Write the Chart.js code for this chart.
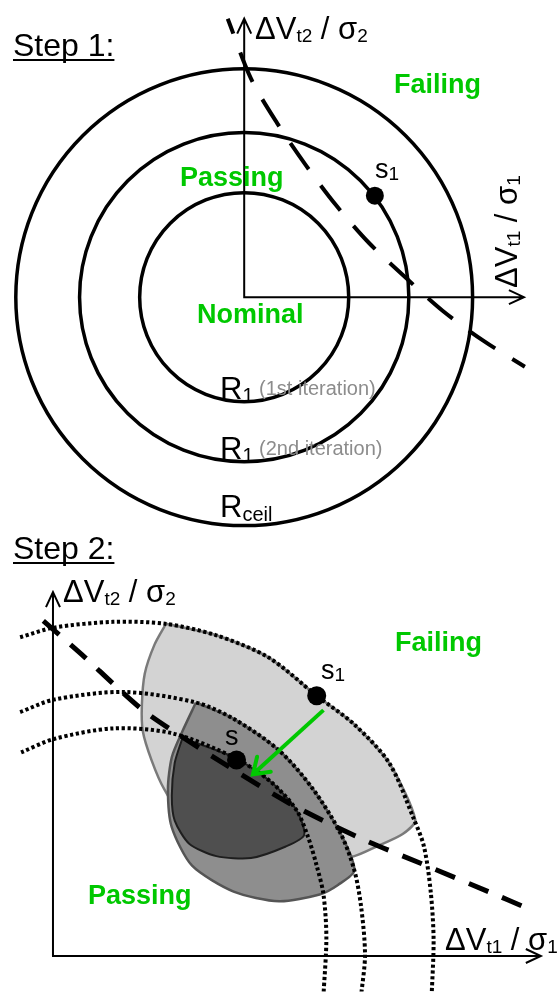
<!DOCTYPE html>
<html>
<head>
<meta charset="utf-8">
<script src="https://cdn.jsdelivr.net/npm/chart.js@4.4.1/dist/chart.umd.min.js"></script>
<style>
  html, body { margin:0; padding:0; background:#fff; }
  body { width:560px; height:1001px; position:relative; overflow:hidden; }
  canvas { position:absolute; left:0; }
  #step1 { top:0; }
  #step2 { top:525px; }
</style>
</head>
<body>
<canvas id="step1" width="560" height="545"></canvas>
<canvas id="step2" width="560" height="476"></canvas>
<script>
// ---- Step 1 data (sigma units, origin = nominal) ----
const ringLabels = ["R1 (1st iteration)", "R1 (2nd iteration)", "Rceil"];
const ringRadius = [2.0, 3.15, 4.37];
const bound1X = [-0.315, 0.13, 0.63, 1.185, 1.759, 2.389, 3.093, 3.796, 4.574, 5.37];
const bound1Y = [5.333, 4.185, 3.333, 2.519, 1.759, 1.037, 0.37, -0.259, -0.833, -1.333];
const s1StepOne = [2.5, 1.944];

// ---- Step 2 data ----
const outerArcX = [-0.85, 0.025, 1.55, 2.9, 4.225, 5.575, 6.825, 7.8, 8.7, 9.325, 9.6, 9.775, 9.85, 9.8];
const outerArcY = [7.545, 7.773, 7.909, 7.864, 7.591, 7.068, 6.159, 5.477, 4.568, 3.273, 2.591, 1.523, 0.386, -0.932];
const middleArcX = [-0.85, 0.025, 1.825, 3.7, 4.675, 5.85, 6.725, 7.45, 7.8, 7.975, 8.075, 7.975];
const middleArcY = [5.773, 6.068, 6.25, 6.0, 5.614, 4.864, 3.955, 2.886, 2.023, 1.159, 0.023, -0.932];
const innerArcX = [-0.825, 0.025, 1.55, 3.075, 4.675, 5.65, 6.3, 6.6, 6.825, 7.0, 7.075, 7.0];
const innerArcY = [4.818, 5.136, 5.386, 5.273, 4.705, 4.114, 3.455, 2.818, 2.136, 1.455, 0.432, -0.932];

const lightX = [2.925, 4.225, 5.575, 6.825, 7.8, 8.7, 9.375, 9.05, 8.375, 7.8, 6.375, 3.875, 2.875, 2.55, 2.325, 2.3, 2.375, 2.625, 2.925];
const lightY = [7.864, 7.591, 7.068, 6.159, 5.477, 4.568, 3.227, 2.886, 2.591, 2.364, 2.136, 2.591, 3.955, 4.636, 5.318, 5.932, 6.682, 7.364, 7.864];
const midX = [3.7, 4.675, 5.85, 6.725, 7.45, 7.8, 7.375, 6.9, 5.85, 4.675, 3.6, 3.075, 2.975, 3.075, 3.35, 3.7];
const midY = [6.0, 5.614, 4.864, 3.955, 2.886, 2.023, 1.682, 1.455, 1.295, 1.523, 2.136, 3.045, 3.955, 4.705, 5.318, 6.0];
const darkX = [3.35, 4.675, 5.65, 6.3, 6.5, 6.025, 5.125, 4.225, 3.525, 3.15, 3.075, 3.15, 3.35];
const darkY = [5.159, 4.705, 4.114, 3.455, 2.864, 2.591, 2.318, 2.364, 2.659, 3.205, 3.795, 4.568, 5.159];

const bound2X = [-0.25, 0.825, 1.55, 2.3, 3.0, 4.55, 6.125, 7.875, 9.55, 11.325, 12.2];
const bound2Y = [7.93, 7.07, 6.45, 5.84, 5.39, 4.48, 3.61, 2.82, 2.18, 1.5, 1.16];
const s1StepTwo = [6.825, 6.159];
const sStepTwo = [4.75, 4.64];
const moveX = [7.0, 5.175];
const moveY = [5.82, 4.3];

const GREEN = "#00c800";
const FONT = "'Liberation Sans', Arial, Helvetica, sans-serif";

function pts(xs, ys){ return xs.map((x, i) => ({ x: x, y: ys[i] })); }

// text med index
function rich(ctx, x, y, parts){
  parts.forEach(p => {
    ctx.font = (p.bold ? "bold " : "") + p.size + "px " + FONT;
    ctx.fillStyle = p.color || "#000";
    ctx.fillText(p.t, x, y + (p.dy || 0));
    x += ctx.measureText(p.t).width;
  });
  return x;
}
function axisLabel(sub){
  return [
    { t: "ΔV", size: 31 }, { t: "t" + sub, size: 19, dy: 3 },
    { t: " / σ", size: 31 }, { t: sub, size: 19, dy: 3 }
  ];
}
function green(ctx, t, x, y){
  ctx.font = "bold 27px " + FONT;
  ctx.fillStyle = GREEN;
  ctx.fillText(t, x, y);
}
function stepTitle(ctx, t, x, y){
  ctx.font = "32px " + FONT;
  ctx.fillStyle = "#000";
  ctx.fillText(t, x, y);
  const w = ctx.measureText(t).width;
  ctx.fillRect(x, y + 3, w, 2);
}
// axlar med öppna pilar
function drawAxes(chart, xEnd, yEnd){
  const { ctx, scales: { x, y } } = chart;
  const ox = x.getPixelForValue(0), oy = y.getPixelForValue(0);
  const tx = x.getPixelForValue(xEnd), ty = y.getPixelForValue(yEnd);
  ctx.save();
  ctx.strokeStyle = "#000";
  ctx.lineWidth = 2;
  ctx.beginPath();
  ctx.moveTo(ox, ty); ctx.lineTo(ox, oy); ctx.lineTo(tx, oy);
  ctx.moveTo(ox - 7, ty + 15); ctx.lineTo(ox, ty); ctx.lineTo(ox + 7, ty + 15);
  ctx.moveTo(tx - 15, oy - 7); ctx.lineTo(tx, oy); ctx.lineTo(tx - 15, oy + 7);
  ctx.stroke();
  ctx.restore();
}

const baseOptions = (xmin, xmax, ymin, ymax) => ({
  responsive: false,
  animation: false,
  devicePixelRatio: 1,
  events: [],
  layout: { padding: 0 },
  plugins: { legend: { display: false }, tooltip: { enabled: false } },
  scales: {
    x: { type: "linear", min: xmin, max: xmax, display: false },
    y: { type: "linear", min: ymin, max: ymax, display: false }
  }
});

// ---- Step 1 chart ----
const step1Plugin = {
  id: "step1",
  beforeDatasetsDraw(chart){
    const { ctx, scales: { x, y } } = chart;
    const cx = x.getPixelForValue(0), cy = y.getPixelForValue(0);
    ctx.save();
    ctx.strokeStyle = "#000";
    ctx.lineWidth = 3.5;
    ringRadius.forEach(r => {
      ctx.beginPath();
      ctx.arc(cx, cy, x.getPixelForValue(r) - cx, 0, Math.PI * 2);
      ctx.stroke();
    });
    ctx.restore();
    drawAxes(chart, 5.352, 5.333);
  },
  afterDatasetsDraw(chart){
    const ctx = chart.ctx;
    ctx.save();
    ctx.textBaseline = "alphabetic";
    stepTitle(ctx, "Step 1:", 13, 56);
    rich(ctx, 255, 39, axisLabel("2"));
    ctx.save();
    ctx.translate(517, 288);
    ctx.rotate(-Math.PI / 2);
    rich(ctx, 0, 0, axisLabel("1"));
    ctx.restore();
    green(ctx, "Failing", 394, 93);
    green(ctx, "Passing", 180, 186);
    green(ctx, "Nominal", 197, 323);
    rich(ctx, 375, 178, [{ t: "s", size: 27 }, { t: "1", size: 19, dy: 2 }]);
    const rows = [[399, 395], [459, 455]];
    rows.forEach((r, i) => {
      const lbl = ringLabels[i];
      const xe = rich(ctx, 220, r[0], [{ t: "R", size: 31 }, { t: "1", size: 20, dy: 3 }]);
      ctx.font = "20px " + FONT;
      ctx.fillStyle = "#8c8c8c";
      ctx.fillText(lbl.slice(2), xe, r[1]);
    });
    rich(ctx, 220, 517, [{ t: "R", size: 31 }, { t: "ceil", size: 20, dy: 4 }]);
    ctx.restore();
  }
};

new Chart(document.getElementById("step1"), {
  type: "line",
  data: {
    datasets: [
      { data: [{ x: s1StepOne[0], y: s1StepOne[1] }], showLine: false,
        pointRadius: 9, pointBackgroundColor: "#000", pointBorderWidth: 0, order: 1 },
      { data: pts(bound1X, bound1Y), borderColor: "#000", borderWidth: 4,
        borderDash: [32, 20], borderDashOffset: 16, pointRadius: 0, tension: 0.3, fill: false, order: 2 }
    ]
  },
  options: baseOptions(-4.5, 5.87, -4.574, 5.5185),
  plugins: [step1Plugin]
});

// ---- Step 2 chart ----
const TOP2 = 525;
const step2Plugin = {
  id: "step2",
  beforeDatasetsDraw(chart){
    drawAxes(chart, 12.625, 8.614);
  },
  afterDatasetsDraw(chart){
    const { ctx, scales: { x, y } } = chart;
    // grön pilspets
    const x0 = x.getPixelForValue(moveX[0]), y0 = y.getPixelForValue(moveY[0]);
    const x1 = x.getPixelForValue(moveX[1]), y1 = y.getPixelForValue(moveY[1]);
    const a = Math.atan2(y1 - y0, x1 - x0);
    ctx.save();
    ctx.strokeStyle = GREEN;
    ctx.lineWidth = 4;
    ctx.lineCap = "round";
    ctx.beginPath();
    ctx.moveTo(x1 - 18 * Math.cos(a - 0.6), y1 - 18 * Math.sin(a - 0.6));
    ctx.lineTo(x1, y1);
    ctx.lineTo(x1 - 18 * Math.cos(a + 0.6), y1 - 18 * Math.sin(a + 0.6));
    ctx.stroke();
    ctx.restore();

    ctx.save();
    ctx.translate(0, -TOP2);
    stepTitle(ctx, "Step 2:", 13, 559);
    rich(ctx, 63, 602, axisLabel("2"));
    rich(ctx, 445, 950, axisLabel("1"));
    green(ctx, "Failing", 395, 651);
    green(ctx, "Passing", 88, 904);
    rich(ctx, 321, 679, [{ t: "s", size: 27 }, { t: "1", size: 19, dy: 2 }]);
    rich(ctx, 225, 745, [{ t: "s", size: 27 }]);
    ctx.restore();
  }
};

const arcStyle = { borderColor: "#000", borderWidth: 4, borderDash: [3.2, 2.6], pointRadius: 0, tension: 0.3, fill: false, order: 5 };

new Chart(document.getElementById("step2"), {
  type: "line",
  data: {
    datasets: [
      { data: [{ x: s1StepTwo[0], y: s1StepTwo[1] }, { x: sStepTwo[0], y: sStepTwo[1] }], showLine: false,
        pointRadius: 9.5, pointBackgroundColor: "#000", pointBorderWidth: 0, order: 1 },
      { data: pts(moveX, moveY), borderColor: GREEN, borderWidth: 4, pointRadius: 0, fill: false, order: 2 },
      { data: pts(bound2X, bound2Y), borderColor: "#000", borderWidth: 5,
        borderDash: [21, 15], pointRadius: 0, tension: 0.3, fill: false, order: 3 },
      Object.assign({ data: pts(outerArcX, outerArcY) }, arcStyle),
      Object.assign({ data: pts(middleArcX, middleArcY) }, arcStyle),
      Object.assign({ data: pts(innerArcX, innerArcY) }, arcStyle),
      { data: pts(darkX, darkY), borderColor: "#1e1e1e", borderWidth: 2, backgroundColor: "#4f4f4f",
        fill: "shape", pointRadius: 0, tension: 0.25, order: 8 },
      { data: pts(midX, midY), borderColor: "#555", borderWidth: 2.5, backgroundColor: "#8e8e8e",
        fill: "shape", pointRadius: 0, tension: 0.25, order: 9 },
      { data: pts(lightX, lightY), borderColor: "#7a7a7a", borderWidth: 2.5, backgroundColor: "#d3d3d3",
        fill: "shape", pointRadius: 0, tension: 0.25, order: 10 }
    ]
  },
  options: baseOptions(-1.125, 12.875, -0.841, 9.977),
  plugins: [step2Plugin]
});
</script>
</body>
</html>
